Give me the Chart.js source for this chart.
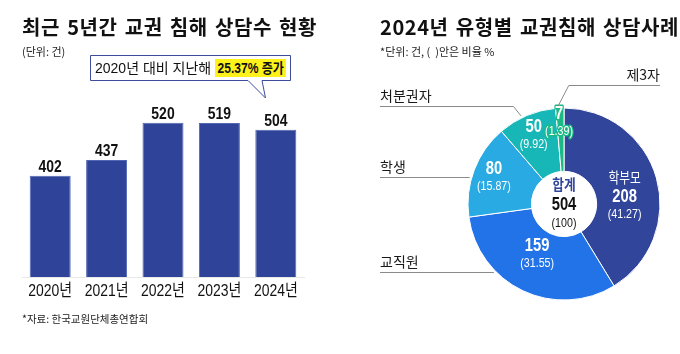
<!DOCTYPE html>
<html>
<head>
<meta charset="utf-8">
<script src="https://cdn.jsdelivr.net/npm/chart.js@4.4.1/dist/chart.umd.min.js"></script>
<style>
html, body { margin: 0; padding: 0; background: #fff; }
body { width: 680px; height: 354px; position: relative; overflow: hidden;
       font-family: "Liberation Sans", "Noto Sans CJK KR", sans-serif; color: #111; }
.abs { position: absolute; white-space: nowrap; }
.title { font-family: "Noto Sans CJK KR", sans-serif; font-weight: 700; font-size: 20px; line-height: 20px; letter-spacing: 0.6px; word-spacing: 2px; }
.note { font-family: "Noto Sans CJK KR", sans-serif; font-size: 11px; line-height: 11px; color: #222; }
.callout { font-size: 14px; line-height: 18px; height: 18px; }
.callout .hl { display: inline-block; background: #fff21a; font-weight: 700; padding: 0 3px; transform: scaleX(0.86); transform-origin: left center; }
canvas { position: absolute; top: 0; }
</style>
</head>
<body>
<canvas id="barChart" width="340" height="354" style="left:0"></canvas>
<canvas id="pieChart" width="340" height="354" style="left:340px"></canvas>

<div class="abs title" style="left:22px; top:17px">최근 5년간 교권 침해 상담수 현황</div>
<div class="abs note" style="left:22px; top:46px">(단위: 건)</div>
<svg class="abs" style="left:0; top:0" width="340" height="110">
  <path d="M90.5,55.5 H290.5 V80.5 H262 L265.5,98 L248,80.5 H90.5 Z" fill="#fff" stroke="#3d4c9b" stroke-width="1"/>
</svg>
<div class="abs callout" style="left:95px; top:59px">2020년 대비 지난해 <span class="hl">25.37% 증가</span></div>
<div class="abs note" style="left:22px; top:313px; font-size:10.5px">*자료: 한국교원단체총연합회</div>

<div class="abs title" style="left:380px; top:17px">2024년 유형별 교권침해 상담사례</div>
<div class="abs note" style="left:380px; top:46px">*단위: 건, (&nbsp;&nbsp;)안은 비율 %</div>

<script>
// Data
const years = ['2020년', '2021년', '2022년', '2023년', '2024년'];
const counts = [402, 437, 520, 519, 504];

const types = ['학부모', '교직원', '학생', '처분권자', '제3자'];
const typeCounts = [208, 159, 80, 50, 7];
const typeShares = [41.27, 31.55, 15.87, 9.92, 1.39];
const typeTotal = 504;

const LAT = '"Liberation Sans", "Noto Sans CJK KR", sans-serif';
const KR = '"Noto Sans CJK KR", sans-serif';
const SQUEEZE = 0.82;

// text squeezed horizontally, the reference uses a condensed face
function drawScaled(ctx, text, x, y, sx, stroke) {
    ctx.save();
    ctx.translate(x, y);
    ctx.scale(sx, 1);
    if (stroke) ctx.strokeText(text, 0, 0);
    ctx.fillText(text, 0, 0);
    ctx.restore();
}

// numbers above bars and year labels under them
const barText = {
    id: 'barText',
    afterDatasetsDraw(chart) {
        const ctx = chart.ctx;
        const meta = chart.getDatasetMeta(0);
        const bottom = chart.chartArea.bottom;
        ctx.save();
        ctx.textAlign = 'center';
        ctx.fillStyle = '#111';
        meta.data.forEach((bar, i) => {
            ctx.font = 'bold 17px ' + LAT;
            ctx.textBaseline = 'alphabetic';
            drawScaled(ctx, String(counts[i]), bar.x, bar.y - 4, SQUEEZE);
            ctx.font = '17px ' + LAT;
            ctx.textBaseline = 'middle';
            drawScaled(ctx, years[i], bar.x, bottom + 14, SQUEEZE);
        });
        ctx.restore();
    }
};

new Chart(document.getElementById('barChart'), {
    type: 'bar',
    data: {
        labels: years,
        datasets: [{
            data: counts,
            backgroundColor: '#2f4498',
            borderColor: '#5366b3',
            borderWidth: { left: 1, right: 1, top: 1, bottom: 0 },
            borderSkipped: 'bottom',
            categoryPercentage: 1,
            barPercentage: 0.727
        }]
    },
    options: {
        responsive: false,
        animation: false,
        layout: { padding: { left: 22, right: 36, top: 97, bottom: 77 } },
        plugins: { legend: { display: false }, tooltip: { enabled: false } },
        scales: {
            x: {
                grid: { display: false, drawTicks: false },
                border: { display: true, color: '#e8e8e8' },
                ticks: { display: false }
            },
            y: { display: false, min: 177, max: 577 }
        }
    },
    plugins: [barText]
});

// labels inside the ring, leader lines and names outside, total in the middle
const pieLabels = {
    id: 'pieLabels',
    afterDatasetsDraw(chart, args, opts) {
        const ctx = chart.ctx;
        const meta = chart.getDatasetMeta(0);
        const first = meta.data[0];
        const cx = first.x, cy = first.y, R = first.outerRadius;

        ctx.save();
        ctx.textAlign = 'center';
        ctx.textBaseline = 'middle';

        meta.data.forEach((arc, i) => {
            const mid = (arc.startAngle + arc.endAngle) / 2 + (opts.shift[i] || 0) * Math.PI / 180;
            const r = R * opts.radius[i];
            const x = cx + r * Math.cos(mid);
            const y = cy + r * Math.sin(mid);
            const outline = opts.outline[i];
            const lines = [];
            if (i === 0) {
                lines.push({ t: types[i], f: '15px ' + KR, dy: -20, sx: 0.78 });
                lines.push({ t: String(typeCounts[i]), f: 'bold 18px ' + LAT, dy: 0, sx: SQUEEZE });
                lines.push({ t: '(' + typeShares[i].toFixed(2) + ')', f: '13px ' + LAT, dy: 18, sx: SQUEEZE });
            } else {
                lines.push({ t: String(typeCounts[i]), f: 'bold 18px ' + LAT, dy: -8.5, sx: SQUEEZE });
                lines.push({ t: '(' + typeShares[i].toFixed(2) + ')', f: '13px ' + LAT, dy: 8.5, sx: SQUEEZE });
            }
            lines.forEach(l => {
                ctx.font = l.f;
                if (outline) {
                    ctx.strokeStyle = outline;
                    ctx.lineWidth = 3;
                    ctx.lineJoin = 'round';
                }
                ctx.fillStyle = '#fff';
                drawScaled(ctx, l.t, x, y + l.dy, l.sx, !!outline);
            });
        });

        // leader lines and category names
        ctx.strokeStyle = '#8a8a8a';
        ctx.lineWidth = 1;
        ctx.fillStyle = '#1a1a1a';
        ctx.font = '14px ' + KR;
        ctx.textBaseline = 'alphabetic';
        opts.leaders.forEach((ld, i) => {
            if (!ld) return;
            const lineY = Math.round(cy + ld.dy * R) + 0.5;
            const pts = [];
            if (ld.elbow !== undefined) {
                const a = (ld.elbow - 90) * Math.PI / 180;
                const ex = cx + (R + 2) * Math.cos(a);
                const ey = cy + (R + 2) * Math.sin(a);
                const run = Math.abs(lineY - ey) * ld.slant;
                const kx = ld.side === 'left' ? ex - run : ex + run;
                pts.push([ex, ey], [kx, lineY]);
            } else {
                const h = lineY - cy;
                const ex = cx - Math.sqrt((R + 2) * (R + 2) - h * h);
                pts.push([ex, lineY]);
            }
            const endX = ld.side === 'left' ? opts.leftX : opts.rightX;
            pts.push([endX, lineY]);
            ctx.beginPath();
            ctx.moveTo(pts[0][0], pts[0][1]);
            for (let k = 1; k < pts.length; k++) ctx.lineTo(pts[k][0], pts[k][1]);
            ctx.stroke();
            ctx.textAlign = ld.side === 'left' ? 'left' : 'right';
            ctx.fillText(types[i], endX, lineY - 6);
        });

        // total in the hole
        ctx.textAlign = 'center';
        ctx.textBaseline = 'middle';
        ctx.fillStyle = '#31469a';
        ctx.font = 'bold 15px ' + KR;
        drawScaled(ctx, '합계', cx, cy - 20, 0.85);
        ctx.fillStyle = '#111';
        ctx.font = 'bold 18px ' + LAT;
        drawScaled(ctx, String(typeTotal), cx, cy + 1.5, SQUEEZE);
        ctx.font = '13px ' + LAT;
        drawScaled(ctx, '(100)', cx, cy + 19, SQUEEZE);
        ctx.restore();
    }
};

new Chart(document.getElementById('pieChart'), {
    type: 'doughnut',
    data: {
        labels: types,
        datasets: [{
            data: typeCounts,
            backgroundColor: ['#31469a', '#2272e8', '#2aaae2', '#17b7b8', '#1bb985'],
            borderColor: '#fff',
            borderWidth: 1
        }]
    },
    options: {
        responsive: false,
        animation: false,
        cutout: '34%',
        layout: { padding: { left: 127.5, right: 19.5, top: 107.5, bottom: 53.5 } },
        plugins: {
            legend: { display: false },
            tooltip: { enabled: false },
            pieLabels: {
                radius: [0.636, 0.598, 0.78, 0.78, 0.85],
                shift: [9, 2.5, 0, -1, -1],
                outline: [null, null, null, null, '#1bb985'],
                leftX: 40,
                rightX: 320,
                leaders: [
                    null,
                    { side: 'left', dy: 0.705 },
                    { side: 'left', dy: -0.28 },
                    { side: 'left', dy: -1.026, elbow: 334, slant: 0.8 },
                    { side: 'right', dy: -1.243, elbow: 356.5, slant: 0.52 }
                ]
            }
        }
    },
    plugins: [pieLabels]
});
</script>
</body>
</html>
